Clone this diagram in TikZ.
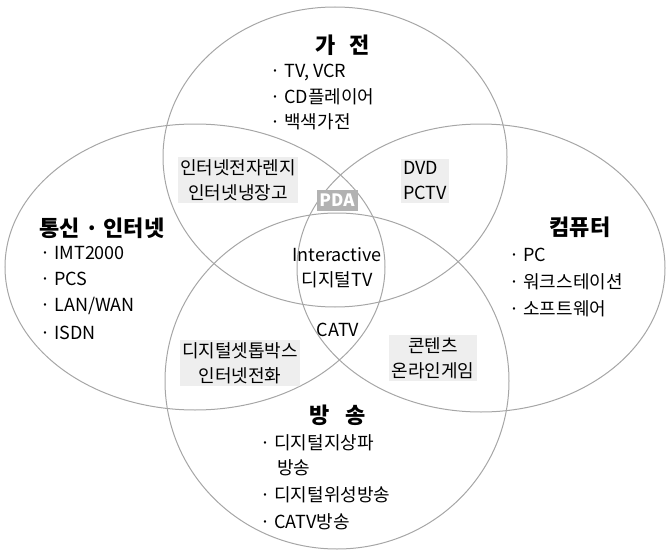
\documentclass[tikz,border=0pt]{standalone}
\usepackage{fontspec}
\setmainfont{Noto Sans CJK KR}
\begin{document}
\begin{tikzpicture}[x=1pt,y=-1pt,
  ring/.style={draw=gray!70, line width=1pt},
  title/.style={font=\fontsize{22}{26}\selectfont\bfseries, inner sep=0pt},
  item/.style={font=\fontsize{18}{22}\selectfont, anchor=west, inner sep=0pt},
  inter/.style={font=\fontsize{18}{25}\selectfont, align=center, fill=gray!13, inner sep=2.5pt},
  plain/.style={font=\fontsize{18}{25}\selectfont, align=center, inner sep=0pt},
  pda/.style={font=\fontsize{17}{18}\selectfont\bfseries, fill=gray!60, text=white, inner sep=1pt, minimum width=41pt, minimum height=21pt}
]
\useasboundingbox (0,0) rectangle (667,551);
% circles
\draw[ring] (335,157) ellipse [x radius=172pt, y radius=150pt];
\draw[ring] (195,267) ellipse [x radius=190pt, y radius=143pt];
\draw[ring] (481,268) ellipse [x radius=184pt, y radius=144pt];
\draw[ring] (337,381) ellipse [x radius=172pt, y radius=168pt];
% top
\node[title] (t1) at (343,45) {가\hspace{14pt}전};
\node[item] (t2) at (270,72) {· TV, VCR};
\node[item] (t3) at (270,97) {· CD플레이어};
\node[item] (t4) at (270,122) {· 백색가전};
% left
\node[title] (l1) at (102,228) {통신 · 인터넷};
\node[item] (l2) at (40,253) {· IMT2000};
\node[item] (l3) at (40,279) {· PCS};
\node[item] (l4) at (40,306) {· LAN/WAN};
\node[item] (l5) at (40,333) {· ISDN};
% right
\node[title] (r1) at (580,227) {컴퓨터};
\node[item] (r2) at (509,255) {· PC};
\node[item] (r3) at (509,282) {· 워크스테이션};
\node[item] (r4) at (509,309) {· 소프트웨어};
% bottom
\node[title] (b1) at (338,415) {방\hspace{16pt}송};
\node[item] (b2) at (260,443) {· 디지털지상파};
\node[item] (b3) at (277,468) {방송};
\node[item] (b4) at (260,495) {· 디지털위성방송};
\node[item] (b5) at (260,522) {· CATV방송};
% intersections
\node[inter] (tl) at (238,180) {인터넷전자렌지\\인터넷냉장고};
\node[inter, align=left] (tr) at (425,181) {DVD\\PCTV};
\node[inter] (bl) at (240,363) {디지털셋톱박스\\인터넷전화};
\node[inter] (br) at (433,358) {콘텐츠\\온라인게임};
\node[pda] (pda) at (337,200) {PDA};
\node[plain] (mid) at (337,268) {Interactive\\디지털TV};
\node[plain] (catv) at (338,330) {CATV};
\end{tikzpicture}
\end{document}
